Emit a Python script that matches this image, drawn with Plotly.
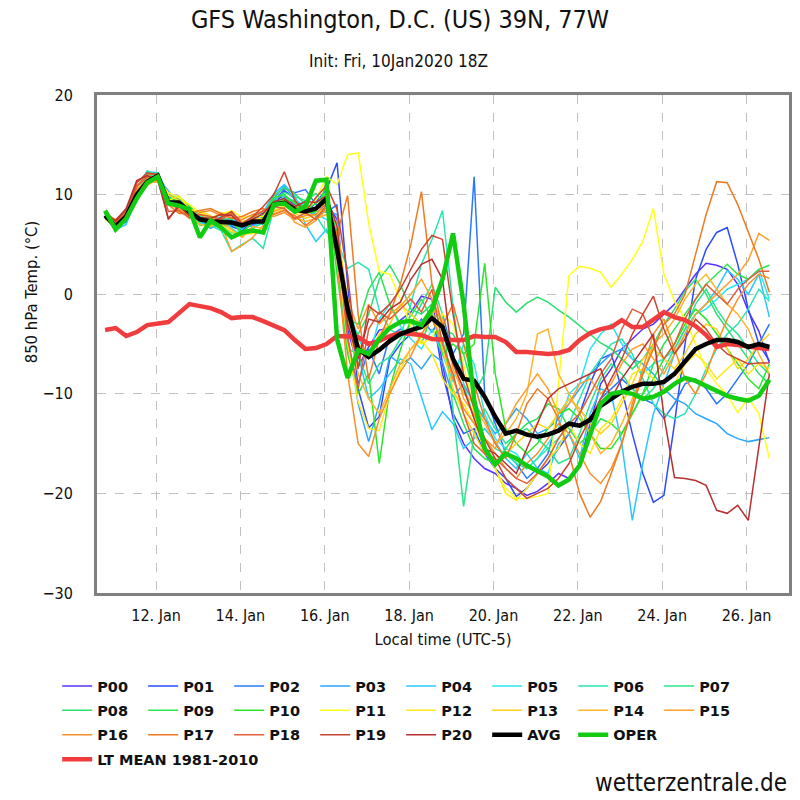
import plotly.graph_objects as go
from datetime import datetime, timedelta

# ---------------- data ----------------
INIT_LOCAL = datetime(2020, 1, 10, 13, 0)      # 10Jan2020 18Z in local time (UTC-5)
LEAD_HOURS = list(range(6, 385, 6))             # +6h ... +384h, 6-hourly
TIMES = [INIT_LOCAL + timedelta(hours=h) for h in LEAD_HOURS]

P00 = [8.1,7.0,8.0,10.3,11.6,11.8,9.6,9.0,8.1,7.2,7.0,7.6,7.4,6.6,7.0,7.8,9.5,9.8,9.0,8.4,8.0,9.2,
       7.5,-3.5,-7.3,-5.3,-3.6,-3.4,-2.6,-1.8,-0.2,-0.5,-7.0,-12.5,
       -15.0,-16.5,-17.5,-18.0,-19.0,-19.5,-20.2,-19.8,-19.0,-18.0,-18.5,-17.0,-13.0,-9.0,
       -7.5,-5.5,-4.5,-3.5,-3.0,-2.0,-1.0,0.5,2.0,3.1,2.9,2.5,1.0,-1.7,-3.7,-6.9]
P01 = [7.7,6.6,7.5,9.8,11.0,12.1,9.8,9.4,8.7,7.6,7.2,7.0,6.8,6.4,7.1,7.0,8.8,10.4,9.6,8.0,9.3,10.5,
       13.2,1.0,-9.5,-13.4,-12.3,-6.5,-5.0,-4.0,-3.0,-1.5,-8.0,-12.0,
       -14.0,-13.5,-16.0,-17.5,-18.5,-20.3,-19.5,-18.0,-17.0,-15.5,-14.0,-12.0,-9.0,-6.5,
       -6.0,-9.5,-14.0,-18.0,-20.9,-20.2,-13.0,-5.0,1.5,4.5,6.2,6.7,3.0,-1.5,-5.0,-6.7]
P02 = [8.0,7.1,7.2,9.5,11.4,12.0,10.1,9.1,8.0,7.8,7.5,6.8,6.9,7.2,7.6,8.0,9.2,10.6,10.2,10.5,9.0,8.2,
       9.0,-5.5,-9.0,-5.5,-8.0,-4.2,-3.5,-4.0,-2.5,-3.8,-2.0,-6.0,
       -4.0,11.8,-10.0,-13.0,-16.0,-17.0,-18.5,-17.5,-16.0,-12.0,-10.5,-11.5,-13.0,-10.5,
       -9.5,-8.5,-9.5,-10.5,-11.0,-12.5,-11.0,-9.0,-8.5,-9.5,-11.0,-10.0,-8.5,-7.0,-5.0,-3.0]
P03 = [7.8,6.9,7.6,10.2,12.1,11.6,10.4,8.8,8.6,7.3,6.6,7.2,7.5,7.0,6.8,7.5,9.6,10.9,9.5,8.8,7.8,8.4,
       8.0,-4.0,-11.0,-14.8,-11.0,-6.2,-7.0,-6.4,-7.5,-6.0,-6.8,-10.3,
       -9.0,-11.0,-12.5,-14.0,-13.0,-11.5,-12.5,-14.0,-13.5,-12.5,-11.0,-9.5,-8.0,-7.0,
       -6.0,-5.5,-6.5,-7.0,-8.0,-9.5,-10.5,-11.0,-12.0,-12.5,-13.0,-14.0,-14.5,-14.8,-14.6,-14.4]
P04 = [8.2,6.5,7.0,9.9,12.3,12.2,10.0,9.6,8.9,7.4,7.1,7.4,7.0,6.5,7.9,8.2,10.1,11.0,9.9,7.0,5.3,6.5,
       4.0,-2.0,-6.0,-10.5,-9.5,-8.0,-6.5,-7.0,-10.2,-13.6,-11.8,-13.0,
       -15.5,-14.5,-13.5,-14.8,-16.5,-17.5,-16.0,-17.5,-18.0,-15.0,-14.0,-16.5,-12.0,-9.5,
       -10.0,-15.0,-22.7,-17.0,-12.0,-9.0,-6.0,-4.0,-2.0,-1.0,0.5,2.4,1.5,0.0,2.0,-2.3]
P05 = [7.9,6.9,7.9,10.5,11.9,11.7,9.5,9.9,8.2,7.1,7.3,7.8,6.6,5.9,6.6,7.4,9.0,9.6,9.4,8.9,8.1,7.5,
       6.5,-1.0,-4.4,-6.5,-2.5,-1.0,-3.2,-4.5,-5.5,-3.5,-6.0,-8.8,
       -5.0,-7.0,-12.0,-14.5,-15.5,-16.0,-17.5,-16.5,-15.0,-13.5,-10.0,-9.0,-5.5,-4.0,
       -3.0,-5.0,-6.5,-8.0,-7.0,-6.5,-5.5,-3.5,-2.0,-1.5,-0.5,0.5,1.0,1.5,2.5,-0.5]
P06 = [8.3,7.2,8.1,10.6,12.4,11.9,9.9,9.3,8.5,7.7,6.9,6.4,4.3,5.0,5.6,4.6,8.6,9.9,9.2,8.7,7.9,6.2,
       5.4,2.6,3.2,2.5,-1.6,-3.5,-4.2,-1.0,3.0,5.5,8.4,-1.2,
       -9.0,-12.5,-14.5,-15.5,-16.0,-17.0,-17.5,-16.5,-15.5,-14.5,-13.0,-10.5,-8.0,-6.5,
       -5.0,-4.5,-6.0,-8.5,-11.0,-12.0,-12.5,-12.0,-10.0,-7.5,-5.5,-4.0,-3.0,-1.5,0.5,-0.7]
P07 = [7.6,6.7,7.7,10.1,11.8,12.2,9.4,9.7,8.8,7.9,7.4,7.1,6.2,6.0,6.7,7.1,9.4,10.2,9.8,9.4,10.1,8.9,
       3.5,-5.5,-6.0,-9.0,-7.0,-6.3,-4.5,-3.0,-1.0,1.0,-2.0,-12.0,
       -21.3,-14.0,-11.5,-13.5,-15.0,-14.0,-13.5,-14.5,-15.5,-17.0,-16.5,-14.0,-11.0,-8.5,
       -7.0,-8.0,-9.5,-10.5,-9.5,-7.5,-5.5,-3.5,-1.0,0.5,-1.5,-3.0,-4.0,-5.5,-7.0,-8.0]
P08 = [8.0,6.8,7.9,10.4,11.5,11.6,9.0,9.5,8.4,7.2,7.8,7.5,7.6,5.8,7.6,7.9,9.9,10.7,10.1,9.0,8.5,9.4,
       5.0,-3.0,-4.0,-2.0,1.5,2.9,1.0,-1.5,-2.0,-1.0,-3.5,-4.0,
       -6.0,-10.0,-8.0,0.7,-0.8,-1.8,-0.9,-0.3,-0.8,-1.6,-2.3,-3.2,-4.0,-4.9,
       -5.5,-6.5,-7.5,-6.5,-5.0,-3.0,-1.5,0.3,1.5,0.0,-2.0,-3.5,-5.0,-6.5,-8.0,-9.0]
P09 = [7.7,7.1,7.4,9.7,11.2,12.0,9.7,9.2,8.0,6.9,7.0,6.9,7.1,6.7,7.4,7.2,8.9,9.5,9.3,8.6,9.1,10.2,
       6.0,-2.5,-3.0,0.5,2.2,-1.0,-3.0,-2.2,-0.5,-2.5,-4.5,-10.0,
       -13.0,-15.5,-16.5,-17.0,-15.5,-14.0,-13.0,-12.5,-11.0,-11.5,-13.5,-15.0,-14.0,-12.5,
       -13.0,-14.0,-12.0,-10.0,-7.0,-5.0,-3.5,-2.0,-0.5,1.0,2.0,3.0,2.0,1.5,2.5,2.9]
P10 = [8.1,6.6,7.8,10.0,11.7,11.9,9.3,9.8,8.9,7.4,7.6,7.1,7.3,6.2,7.2,7.7,9.7,10.0,9.1,8.1,8.3,11.0,
       2.0,-6.0,-10.0,-8.0,-17.0,-9.5,-5.6,-2.5,-5.0,-2.0,-6.0,-5.0,
       -6.0,-5.0,3.1,-8.0,-13.5,-15.0,-16.0,-15.0,-13.5,-12.0,-11.5,-12.5,-14.0,-15.5,
       -15.5,-14.0,-12.0,-10.0,-8.5,-6.5,-5.0,-3.0,-1.5,-2.5,-4.0,-5.5,-7.0,-8.5,-9.5,-7.0]
P11 = [7.5,6.9,8.2,10.7,11.3,11.5,10.2,9.7,9.0,8.2,7.7,8.0,8.4,7.7,7.9,7.8,9.1,9.4,8.8,8.4,9.5,11.8,
       11.0,14.0,14.2,7.1,2.3,2.0,-0.5,-3.2,-5.0,-4.4,-2.0,-3.0,
       -7.0,-12.0,-15.5,-17.5,-19.5,-20.5,-20.5,-20.3,-20.0,-9.0,1.9,2.8,2.6,2.2,
       0.7,2.0,3.5,5.3,8.6,2.0,-0.7,-2.5,-5.0,-7.5,-9.0,-10.1,-11.9,-10.4,-12.0,-16.5]
P12 = [7.8,7.0,7.6,10.1,11.1,11.4,9.4,9.9,8.5,8.3,7.9,7.0,6.3,6.0,6.1,6.5,8.4,8.9,8.3,8.0,8.7,9.1,
       4.5,-5.0,-10.8,-13.5,-13.7,-10.0,-7.5,-5.5,-4.6,-6.0,-8.5,-10.0,
       -11.0,-13.0,-15.5,-17.5,-20.0,-20.7,-19.5,-18.0,-16.5,-15.5,-13.0,-15.0,-16.0,-13.5,
       -12.5,-10.5,-8.0,-7.5,-8.5,-9.5,-9.0,-7.0,-6.0,-7.0,-8.5,-7.5,-6.5,-8.0,-7.0,-7.5]
P13 = [8.0,7.3,8.0,10.3,11.0,11.7,10.0,9.4,8.2,7.6,7.5,8.2,8.0,7.3,7.5,7.6,8.9,9.0,8.1,7.6,8.0,8.8,
       7.0,-1.0,-5.0,-6.0,-4.0,-3.0,-1.0,-2.0,-3.0,-1.5,-5.5,-9.5,
       -12.0,-14.0,-16.0,-17.0,-16.0,-15.0,-14.0,-13.0,-13.5,-12.0,-10.5,-11.5,-13.0,-14.0,
       -13.0,-11.0,-9.0,-6.5,-5.5,-6.5,-7.5,-6.0,-4.0,-3.0,-3.5,-5.5,-7.5,-6.5,-5.0,-4.0]
P14 = [7.6,7.0,7.9,10.1,10.9,11.6,9.1,8.6,7.8,7.0,6.8,7.3,6.5,5.7,6.8,6.6,8.1,8.5,7.7,7.3,7.6,8.0,
       5.5,-2.5,-8.0,-10.5,-12.0,-9.5,-7.0,-5.5,-4.2,-1.5,-2.5,-7.5,
       -10.0,-11.0,-13.0,-15.0,-14.0,-12.5,-10.0,-4.0,-3.5,-8.0,-10.0,-12.0,-14.0,-16.0,
       -15.0,-13.0,-10.5,-8.0,-5.0,-4.0,-2.5,-0.5,1.0,2.0,0.5,-1.0,-2.0,-3.5,-6.0,-8.0]
P15 = [8.2,7.4,8.3,10.6,11.2,11.3,9.5,8.3,7.9,8.0,7.7,7.0,4.3,4.9,5.7,6.9,8.3,8.7,7.2,6.7,7.4,8.5,
       6.0,-0.5,-3.5,-1.0,-3.0,-2.0,-1.2,0.0,1.5,-0.5,-3.0,-6.5,
       -10.5,-12.0,-14.5,-15.5,-13.0,-11.0,-9.5,-8.0,-9.5,-12.0,-11.0,-9.0,-8.5,-10.0,
       -9.0,-7.0,-5.5,-5.0,-6.5,-8.0,-6.0,-4.0,-2.0,-1.0,0.0,1.0,2.0,3.4,6.1,5.4]
P16 = [7.9,7.2,8.0,10.4,11.6,11.9,9.2,8.5,7.6,8.2,8.4,7.9,7.7,7.5,8.0,8.3,7.8,8.2,7.5,7.9,8.0,9.3,
       3.5,-8.0,-15.0,-16.3,-12.5,-10.0,-7.8,-6.2,-4.0,-2.5,-4.8,-8.5,
       -11.5,-13.0,-14.5,-16.0,-17.5,-18.5,-17.0,-16.0,-14.5,-13.0,-14.0,-16.0,-18.0,-19.0,
       -17.5,-15.0,-11.0,-7.5,-4.0,-2.5,-5.5,-8.5,-10.0,-8.0,-5.0,-2.5,-0.5,1.0,2.0,1.6]
P17 = [8.0,7.5,8.4,10.9,12.0,12.1,9.0,8.1,8.1,8.4,8.6,8.1,7.6,7.8,8.3,8.6,8.0,8.4,7.9,6.9,7.7,8.7,
       6.0,9.9,-2.0,-8.5,-4.5,-2.0,1.0,5.0,10.3,1.0,-3.2,-1.0,
       -5.0,-9.0,-12.5,-15.0,-16.5,-14.0,-11.0,-9.5,-10.5,-12.5,-16.0,-20.0,-22.4,-20.8,
       -18.0,-15.0,-11.5,-8.0,-5.5,-3.0,-2.0,0.0,4.0,8.0,11.3,11.2,9.0,6.3,3.5,0.2]
P18 = [7.7,7.2,8.2,10.8,11.8,11.8,8.3,8.4,7.7,8.0,7.8,7.5,8.1,7.0,7.7,8.4,8.8,8.6,7.6,8.2,7.5,9.0,
       5.5,-4.5,-9.5,-3.5,-1.8,-2.5,-1.5,-0.5,-1.8,0.5,-5.0,-8.0,
       -12.0,-15.0,-16.0,-16.5,-17.5,-18.5,-19.0,-18.0,-16.5,-14.5,-13.0,-12.0,-10.0,-8.0,
       -6.5,-3.5,-1.5,-2.0,-4.5,-6.5,-5.0,-2.5,-0.5,1.0,0.0,-1.0,0.5,1.5,2.3,2.3]
P19 = [8.3,7.3,8.5,11.2,12.2,12.0,7.5,9.0,8.0,7.4,7.2,7.7,8.3,7.1,7.8,8.8,10.0,12.3,9.4,8.3,9.7,10.9,
       8.5,2.0,-7.5,-1.2,-2.0,-1.0,0.5,2.5,4.5,5.9,5.5,-2.0,
       -8.0,-11.5,-14.5,-16.5,-18.5,-19.5,-20.5,-20.0,-19.5,-18.5,-17.0,-14.5,-12.5,-10.5,
       -8.5,-6.5,-4.0,-2.0,-0.2,-3.5,-6.0,-4.5,-2.5,-3.5,-5.0,-6.0,-6.5,-7.0,-6.9,-6.9]
P20 = [7.6,7.4,8.6,11.4,11.9,11.4,7.6,8.8,7.9,7.7,7.6,8.0,7.9,6.8,7.5,8.1,9.3,9.6,8.8,9.3,9.2,9.9,
       6.8,-3.0,-6.5,-2.5,-2.8,-1.5,-0.8,1.5,3.0,3.5,1.5,-7.0,
       -9.5,-12.5,-15.5,-16.0,-17.0,-18.0,-15.5,-13.0,-10.5,-9.5,-9.0,-8.5,-8.0,-7.5,
       -10.5,-8.5,-7.0,-5.5,-4.0,-12.2,-18.4,-18.5,-18.7,-19.2,-21.7,-22.0,-21.2,-22.7,-15.5,-8.0]

AVG = [7.9,6.8,7.8,10.0,11.3,11.9,9.2,9.2,8.3,7.5,7.3,7.3,7.2,6.9,7.3,7.3,9.0,9.2,8.5,8.3,8.6,9.6,
       4.5,-1.5,-5.5,-6.3,-5.6,-4.7,-4.0,-3.6,-3.3,-2.4,-3.3,-6.5,
       -8.5,-8.7,-10.3,-12.3,-14.0,-13.7,-14.1,-14.3,-14.1,-13.7,-13.0,-13.2,-12.6,-11.2,
       -10.5,-9.8,-9.3,-9.0,-9.0,-8.8,-8.0,-6.7,-5.5,-5.0,-4.6,-4.6,-4.8,-5.3,-5.0,-5.3]
OPER = [8.4,6.5,7.6,9.6,11.2,11.8,9.1,8.9,8.5,5.7,7.4,6.7,5.7,6.2,6.4,6.2,9.0,9.1,8.3,8.8,11.4,11.5,
        -4.5,-8.4,-5.6,-6.0,-4.5,-3.4,-2.8,-2.7,-3.1,-1.5,1.5,6.1,
        -1.0,-10.6,-15.5,-17.1,-16.0,-16.5,-17.2,-17.8,-18.3,-19.2,-18.6,-17.2,-14.0,-11.0,
        -10.0,-9.8,-10.0,-10.5,-10.3,-9.8,-9.0,-8.4,-8.7,-9.2,-9.8,-10.2,-10.5,-10.7,-10.2,-8.6]
LT_MEAN = [-3.6,-3.4,-4.2,-3.8,-3.1,-2.9,-2.8,-1.9,-1.0,-1.2,-1.4,-1.8,-2.4,-2.3,-2.3,-2.7,
           -3.1,-3.6,-4.6,-5.5,-5.4,-5.0,-4.2,-4.2,-4.3,-5.0,-4.7,-4.2,-3.9,-4.0,-4.1,-4.5,
           -4.6,-4.6,-4.6,-4.2,-4.3,-4.3,-4.8,-5.8,-5.8,-5.9,-6.0,-5.9,-5.6,-4.6,-3.9,-3.5,
           -3.3,-2.6,-3.3,-3.3,-2.5,-1.8,-2.3,-2.6,-3.2,-4.1,-5.3,-5.0,-5.1,-5.3,-5.4,-5.5]

MEMBER_NAMES = ["P%02d" % i for i in range(21)]
MEMBER_VALUES = [P00, P01, P02, P03, P04, P05, P06, P07, P08, P09, P10,
                 P11, P12, P13, P14, P15, P16, P17, P18, P19, P20]
MEMBER_COLORS = ["#5a32ff", "#2a4bff", "#2a78ff", "#2aa5ff", "#2ac8ff", "#2ae6f0", "#2ae6b0",
                 "#2ae68a", "#2ae070", "#2ae650", "#2ae62a", "#ffff1a", "#ffe81a", "#ffd21a",
                 "#ffb42a", "#ffa02a", "#f8902a", "#ee7a22", "#e0603a", "#cc4430", "#b83030"]

TICK_DAYS = ["2020-01-12", "2020-01-14", "2020-01-16", "2020-01-18",
             "2020-01-20", "2020-01-22", "2020-01-24", "2020-01-26"]
X_RANGE = ["2020-01-10 14:24", "2020-01-27 00:10"]
Y_TICKS = [-30, -20, -10, 0, 10, 20]

# ---------------- figure ----------------
COND = "DejaVu Sans Condensed, Liberation Sans Narrow, DejaVu Sans, sans-serif"
BOLD = "DejaVu Sans, Verdana, sans-serif"

# legend rows: each row is its own legend so the wrapping matches the original
ROW_OF = {}
for i, n in enumerate(MEMBER_NAMES):
    ROW_OF[n] = "legend" if i < 8 else ("legend2" if i < 16 else "legend3")

fig = go.Figure()
for i, (name, vals, col) in enumerate(zip(MEMBER_NAMES, MEMBER_VALUES, MEMBER_COLORS)):
    fig.add_trace(go.Scatter(x=TIMES, y=vals, name=name, mode="lines",
                             line=dict(color=col, width=1.5), legend=ROW_OF[name],
                             legendrank=i + 1))
fig.add_trace(go.Scatter(x=TIMES, y=LT_MEAN, name="LT MEAN 1981-2010", mode="lines",
                         line=dict(color="#f03c3c", width=4.5), legend="legend4"))
fig.add_trace(go.Scatter(x=TIMES, y=AVG, name="AVG", mode="lines",
                         line=dict(color="black", width=4.5), legend="legend3", legendrank=22))
fig.add_trace(go.Scatter(x=TIMES, y=OPER, name="OPER", mode="lines",
                         line=dict(color="#11cc11", width=4.5), legend="legend3", legendrank=23))

PLOT_L, PLOT_R, PLOT_T, PLOT_B = 97, 792, 95, 593
PW, PH = PLOT_R - PLOT_L, PLOT_B - PLOT_T

def px_x(x):
    return (x - PLOT_L) / PW

def px_y(y):
    return (PLOT_B - y) / PH

def legend_row(row, entrywidth=41):
    return dict(orientation="h", xanchor="left", yanchor="top",
                x=px_x(57), y=px_y(670 + row * 24.4),
                font=dict(family=BOLD, size=14.5, color="#111", weight="bold"),
                entrywidth=entrywidth, entrywidthmode="pixels",
                bgcolor="rgba(0,0,0,0)", itemclick=False, itemdoubleclick=False)

fig.update_layout(
    width=800, height=800, autosize=False,
    margin=dict(l=PLOT_L, r=800 - PLOT_R, t=PLOT_T, b=800 - PLOT_B),
    paper_bgcolor="white", plot_bgcolor="white",
    title=dict(text="GFS Washington, D.C. (US) 39N, 77W", xref="container", x=0.5,
               xanchor="center", yref="container", y=1 - 19 / 800, yanchor="middle",
               font=dict(family=COND, size=25, color="#111")),
    legend=legend_row(0), legend2=legend_row(1), legend3=legend_row(2),
    legend4=legend_row(3, entrywidth=0),
    xaxis=dict(type="date", range=X_RANGE, tickvals=TICK_DAYS, tickformat="%d. %b",
               showgrid=True, gridcolor="#c0c0c0", griddash="dash", gridwidth=1,
               showline=True, mirror=True, linecolor="#808080", linewidth=3,
               ticks="", ticklabelstandoff=6,
               tickfont=dict(family=COND, size=16, color="#111"),
               title=dict(text="Local time (UTC-5)", standoff=10,
                          font=dict(family=COND, size=16.5, color="#111"))),
    yaxis=dict(range=[-30, 20], tickvals=Y_TICKS, zeroline=False,
               showgrid=True, gridcolor="#c0c0c0", griddash="dash", gridwidth=1,
               showline=True, mirror=True, linecolor="#808080", linewidth=3,
               ticks="", ticklabelstandoff=18,
               tickfont=dict(family=COND, size=16, color="#111")),
    annotations=[
        dict(text="850 hPa Temp. (°C)", xref="paper", yref="paper", textangle=-90,
             x=px_x(31), y=px_y(292), xanchor="center", yanchor="middle", showarrow=False,
             font=dict(family=COND, size=16.5, color="#111")),
        dict(text="Init: Fri, 10Jan2020 18Z", xref="paper", yref="paper",
             x=px_x(400), y=px_y(61), xanchor="center", yanchor="middle", showarrow=False,
             font=dict(family=COND, size=17, color="#111")),
        dict(text="wetterzentrale.de", xref="paper", yref="paper",
             x=px_x(792), y=px_y(783), xanchor="right", yanchor="middle", showarrow=False,
             font=dict(family=COND, size=24, color="#111")),
    ],
)

fig.write_html("out.html", config={"displayModeBar": False},
               post_script="document.body.style.margin='0px';")
